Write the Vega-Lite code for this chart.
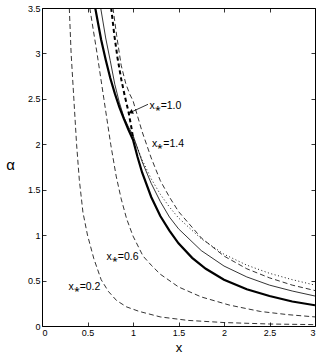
{
 "$schema": "https://vega.github.io/schema/vega-lite/v6.json",
 "width": 273, "height": 318,
 "autosize": "none",
 "padding": {"left": 42, "top": 8, "right": 7, "bottom": 30},
 "background": "white",
 "config": {"view": {"stroke": "black", "strokeWidth": 1}, "font": "Liberation Sans",
   "axis": {"domain": false, "grid": false, "tickSize": -4, "tickColor": "black", "tickWidth": 0.8, "labelFontSize": 9, "labelColor": "black", "labelFont": "Liberation Sans", "titleColor": "black", "titleFontWeight": "normal", "titleFont": "Liberation Sans", "format": "~g"}},
 "datasets": {
  "curves": [
   {"c":"c02","x":0.30,"a":3.5},{"c":"c02","x":0.32,"a":3.0},{"c":"c02","x":0.35,"a":2.5},{"c":"c02","x":0.38,"a":2.0},{"c":"c02","x":0.41,"a":1.61},{"c":"c02","x":0.45,"a":1.25},{"c":"c02","x":0.5,"a":1.0},{"c":"c02","x":0.57,"a":0.74},{"c":"c02","x":0.65,"a":0.51},{"c":"c02","x":0.73,"a":0.38},{"c":"c02","x":0.82,"a":0.28},{"c":"c02","x":0.93,"a":0.21},{"c":"c02","x":1.07,"a":0.16},{"c":"c02","x":1.3,"a":0.10},{"c":"c02","x":1.6,"a":0.062},{"c":"c02","x":2.0,"a":0.038},{"c":"c02","x":2.5,"a":0.022},{"c":"c02","x":3.0,"a":0.015},
   {"c":"c06","x":0.525,"a":3.5},{"c":"c06","x":0.605,"a":3.0},{"c":"c06","x":0.68,"a":2.5},{"c":"c06","x":0.755,"a":2.0},{"c":"c06","x":0.815,"a":1.65},{"c":"c06","x":0.87,"a":1.4},{"c":"c06","x":0.93,"a":1.18},{"c":"c06","x":1.0,"a":0.99},{"c":"c06","x":1.11,"a":0.77},{"c":"c06","x":1.2,"a":0.67},{"c":"c06","x":1.3,"a":0.57},{"c":"c06","x":1.5,"a":0.43},{"c":"c06","x":1.75,"a":0.32},{"c":"c06","x":2.06,"a":0.23},{"c":"c06","x":2.4,"a":0.16},{"c":"c06","x":2.7,"a":0.125},{"c":"c06","x":3.0,"a":0.10},
   {"c":"c14","x":0.78,"a":3.5},{"c":"c14","x":0.82,"a":3.2},{"c":"c14","x":0.87,"a":2.87},{"c":"c14","x":0.92,"a":2.67},{"c":"c14","x":0.965,"a":2.55},{"c":"c14","x":1.0,"a":2.48},{"c":"c14","x":1.1,"a":2.14},{"c":"c14","x":1.2,"a":1.85},{"c":"c14","x":1.3,"a":1.6},{"c":"c14","x":1.4,"a":1.42},{"c":"c14","x":1.5,"a":1.26},{"c":"c14","x":1.75,"a":0.97},{"c":"c14","x":2.0,"a":0.77},{"c":"c14","x":2.25,"a":0.63},{"c":"c14","x":2.5,"a":0.53},{"c":"c14","x":2.75,"a":0.45},{"c":"c14","x":3.0,"a":0.39},
   {"c":"thick","x":0.585,"a":3.5},{"c":"thick","x":0.65,"a":3.15},{"c":"thick","x":0.7,"a":2.93},{"c":"thick","x":0.75,"a":2.73},{"c":"thick","x":0.8,"a":2.56},{"c":"thick","x":0.85,"a":2.41},{"c":"thick","x":0.9,"a":2.28},{"c":"thick","x":0.95,"a":2.16},{"c":"thick","x":1.0,"a":2.05},{"c":"thick","x":1.05,"a":1.86},{"c":"thick","x":1.1,"a":1.69},{"c":"thick","x":1.2,"a":1.42},{"c":"thick","x":1.3,"a":1.21},{"c":"thick","x":1.4,"a":1.05},{"c":"thick","x":1.5,"a":0.91},{"c":"thick","x":1.65,"a":0.75},{"c":"thick","x":1.8,"a":0.63},{"c":"thick","x":2.0,"a":0.51},{"c":"thick","x":2.25,"a":0.405},{"c":"thick","x":2.5,"a":0.33},{"c":"thick","x":2.75,"a":0.27},{"c":"thick","x":3.0,"a":0.228},
   {"c":"thin","x":0.645,"a":3.5},{"c":"thin","x":0.7,"a":3.17},{"c":"thin","x":0.75,"a":2.92},{"c":"thin","x":0.8,"a":2.66},{"c":"thin","x":0.85,"a":2.46},{"c":"thin","x":0.9,"a":2.3},{"c":"thin","x":0.95,"a":2.19},{"c":"thin","x":1.0,"a":2.1},{"c":"thin","x":1.1,"a":1.81},{"c":"thin","x":1.2,"a":1.57},{"c":"thin","x":1.3,"a":1.37},{"c":"thin","x":1.4,"a":1.2},{"c":"thin","x":1.5,"a":1.07},{"c":"thin","x":1.75,"a":0.83},{"c":"thin","x":2.0,"a":0.66},{"c":"thin","x":2.25,"a":0.54},{"c":"thin","x":2.5,"a":0.45},{"c":"thin","x":2.75,"a":0.385},{"c":"thin","x":3.0,"a":0.33},
   {"c":"dot","x":1.0,"a":2.08},{"c":"dot","x":1.1,"a":1.83},{"c":"dot","x":1.2,"a":1.62},{"c":"dot","x":1.3,"a":1.45},{"c":"dot","x":1.4,"a":1.31},{"c":"dot","x":1.5,"a":1.19},{"c":"dot","x":1.75,"a":0.96},{"c":"dot","x":2.0,"a":0.79},{"c":"dot","x":2.25,"a":0.67},{"c":"dot","x":2.5,"a":0.58},{"c":"dot","x":2.75,"a":0.51},{"c":"dot","x":3.0,"a":0.45},
   {"c":"c10","x":0.76,"a":3.5},{"c":"c10","x":0.795,"a":3.2},{"c":"c10","x":0.83,"a":2.95},{"c":"c10","x":0.87,"a":2.72},{"c":"c10","x":0.91,"a":2.53},{"c":"c10","x":0.95,"a":2.36},{"c":"c10","x":0.985,"a":2.17},{"c":"c10","x":1.0,"a":2.07}
  ],
  "labels": [
   {"x":0.29,"a":0.43,"t":"x⁎=0.2"},
   {"x":0.71,"a":0.76,"t":"x⁎=0.6"},
   {"x":1.18,"a":2.42,"t":"x⁎=1.0"},
   {"x":1.21,"a":2.0,"t":"x⁎=1.4"}
  ],
  "arrow": [{"x":1.165,"a":2.44,"x2":0.975,"a2":2.352}]
 },
 "layer": [
  {"layer": [
   {"data": {"name": "curves"}, "transform": [{"filter": "datum.c==='c02' || datum.c==='c06' || datum.c==='c14'"}],
    "mark": {"type": "line", "color": "black", "strokeWidth": 0.8, "strokeDash": [5, 3], "clip": true},
    "encoding": {
     "x": {"field": "x", "type": "quantitative", "scale": {"domain": [0, 3], "nice": false}, "axis": {"orient": "bottom", "values": [0,0.5,1,1.5,2,2.5,3], "title": "x", "titleFontSize": 13, "titleY": 25, "titleBaseline": "alphabetic", "labelPadding": 6}},
     "y": {"field": "a", "type": "quantitative", "scale": {"domain": [0, 3.5], "nice": false}, "axis": {"orient": "left", "values": [0,0.5,1,1.5,2,2.5,3,3.5], "title": "α", "titleFontSize": 15, "titleAngle": 0, "titleX": -32, "titleY": 156, "titleAlign": "center", "titleBaseline": "middle", "labelPadding": 6}},
     "detail": {"field": "c"}}},
   {"data": {"name": "curves"}, "transform": [{"filter": "datum.c==='thick'"}],
    "mark": {"type": "line", "color": "black", "strokeWidth": 2.2, "clip": true},
    "encoding": {"x": {"field": "x", "type": "quantitative"}, "y": {"field": "a", "type": "quantitative"}}},
   {"data": {"name": "curves"}, "transform": [{"filter": "datum.c==='thin'"}],
    "mark": {"type": "line", "color": "black", "strokeWidth": 0.8, "clip": true},
    "encoding": {"x": {"field": "x", "type": "quantitative"}, "y": {"field": "a", "type": "quantitative"}}},
   {"data": {"name": "curves"}, "transform": [{"filter": "datum.c==='dot'"}],
    "mark": {"type": "line", "color": "black", "strokeWidth": 0.9, "strokeDash": [1, 2.5], "clip": true},
    "encoding": {"x": {"field": "x", "type": "quantitative"}, "y": {"field": "a", "type": "quantitative"}}},
   {"data": {"name": "curves"}, "transform": [{"filter": "datum.c==='c10'"}],
    "mark": {"type": "line", "color": "black", "strokeWidth": 2, "strokeDash": [4, 3], "clip": true},
    "encoding": {"x": {"field": "x", "type": "quantitative"}, "y": {"field": "a", "type": "quantitative"}}},
   {"data": {"name": "labels"},
    "mark": {"type": "text", "align": "left", "baseline": "middle", "fontSize": 10.5, "font": "Liberation Sans", "color": "black"},
    "encoding": {"x": {"field": "x", "type": "quantitative"}, "y": {"field": "a", "type": "quantitative"}, "text": {"field": "t"}}},
   {"data": {"name": "arrow"},
    "mark": {"type": "rule", "color": "black", "strokeWidth": 0.8},
    "encoding": {"x": {"field": "x", "type": "quantitative"}, "y": {"field": "a", "type": "quantitative"}, "x2": {"field": "x2"}, "y2": {"field": "a2"}}},
   {"data": {"name": "arrow"},
    "mark": {"type": "point", "shape": "triangle-left", "filled": true, "color": "black", "size": 28, "angle": -25, "opacity": 1},
    "encoding": {"x": {"field": "x2", "type": "quantitative"}, "y": {"field": "a2", "type": "quantitative"}}}
  ]},
  {"data": {"name": "labels"},
   "mark": {"type": "point", "opacity": 0},
   "encoding": {
    "x": {"field": "x", "type": "quantitative", "axis": {"orient": "top", "values": [0,0.5,1,1.5,2,2.5,3], "labels": false, "title": null}},
    "y": {"field": "a", "type": "quantitative", "axis": {"orient": "right", "values": [0,0.5,1,1.5,2,2.5,3,3.5], "labels": false, "title": null}}}}
 ],
 "resolve": {"axis": {"x": "independent", "y": "independent"}}
}
